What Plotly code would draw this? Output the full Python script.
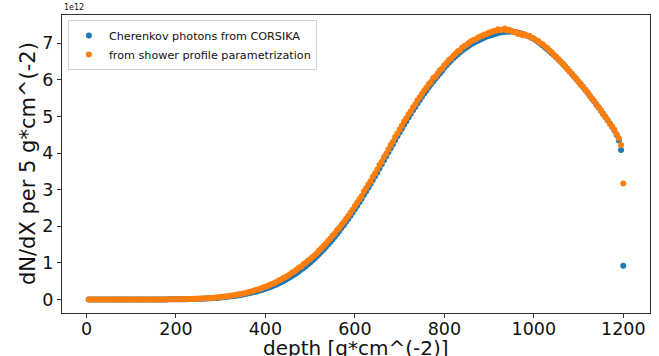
import plotly.graph_objects as go

depth = list(range(5, 1205, 5))

corsika = [0.0] * 30 + [
    0.001, 0.001, 0.001, 0.002, 0.002, 0.002, 0.003, 0.003, 0.004, 0.004,
    0.005, 0.006, 0.007, 0.008, 0.009, 0.010, 0.012, 0.013, 0.015, 0.017,
    0.019, 0.021, 0.024, 0.027, 0.030, 0.034, 0.038, 0.042, 0.047, 0.052,
    0.058, 0.064, 0.071, 0.078, 0.086, 0.095, 0.104, 0.114, 0.125, 0.136,
    0.148, 0.161, 0.175, 0.189, 0.204, 0.22, 0.237, 0.254, 0.272, 0.29,
    0.31, 0.335, 0.36, 0.385, 0.41, 0.44, 0.47, 0.50, 0.535, 0.57,
    0.605, 0.645, 0.685, 0.725, 0.77, 0.815, 0.86, 0.91, 0.96, 1.01,
    1.065, 1.12, 1.18, 1.24, 1.30, 1.365, 1.43, 1.50, 1.57, 1.64,
    1.715, 1.79, 1.87, 1.95, 2.03, 2.115, 2.20, 2.285, 2.375, 2.465,
    2.56, 2.655, 2.75, 2.85, 2.95, 3.05, 3.155, 3.26, 3.365, 3.47,
    3.58, 3.69, 3.8, 3.91, 4.02, 4.13, 4.24, 4.35, 4.455, 4.56,
    4.665, 4.77, 4.87, 4.97, 5.07, 5.165, 5.26, 5.355, 5.445, 5.535,
    5.625, 5.71, 5.795, 5.875, 5.955, 6.03, 6.105, 6.175, 6.245, 6.33,
    6.4, 6.465, 6.53, 6.59, 6.645, 6.7, 6.75, 6.8, 6.845, 6.89,
    6.93, 6.97, 7.005, 7.04, 7.07, 7.1, 7.13, 7.155, 7.18, 7.2,
    7.22, 7.24, 7.26, 7.275, 7.29, 7.3, 7.31, 7.315, 7.32, 7.32,
    7.31, 7.3, 7.285, 7.27, 7.25, 7.23, 7.205, 7.18, 7.15, 7.12,
    7.075, 7.03, 6.985, 6.935, 6.885, 6.835, 6.78, 6.725, 6.67, 6.615,
    6.555, 6.495, 6.43, 6.365, 6.3, 6.23, 6.16, 6.09, 6.02, 5.95,
    5.875, 5.8, 5.725, 5.645, 5.565, 5.485, 5.405, 5.325, 5.24, 5.155,
    5.07, 4.985, 4.895, 4.805, 4.715, 4.62, 4.5, 4.35, 4.08, 0.92,
]

param = [0.0] * 30 + [
    0.001, 0.001, 0.002, 0.002, 0.002, 0.003, 0.003, 0.004, 0.004, 0.005,
    0.006, 0.007, 0.008, 0.009, 0.011, 0.012, 0.014, 0.016, 0.018, 0.02,
    0.023, 0.026, 0.03, 0.033, 0.037, 0.042, 0.047, 0.052, 0.058, 0.064,
    0.071, 0.079, 0.087, 0.096, 0.105, 0.116, 0.127, 0.139, 0.151, 0.164,
    0.178, 0.193, 0.209, 0.226, 0.244, 0.262, 0.282, 0.302, 0.325, 0.347,
    0.37, 0.4, 0.425, 0.45, 0.485, 0.515, 0.545, 0.585, 0.61, 0.65,
    0.69, 0.735, 0.77, 0.82, 0.865, 0.9, 0.96, 1.0, 1.06, 1.1,
    1.16, 1.21, 1.27, 1.34, 1.39, 1.46, 1.52, 1.6, 1.66, 1.74,
    1.8, 1.89, 1.95, 2.04, 2.11, 2.2, 2.28, 2.37, 2.45, 2.55,
    2.64, 2.74, 2.82, 2.95, 3.04, 3.14, 3.23, 3.35, 3.44, 3.55,
    3.67, 3.76, 3.89, 3.98, 4.1, 4.22, 4.31, 4.44, 4.53, 4.64,
    4.75, 4.86, 4.95, 5.06, 5.14, 5.25, 5.33, 5.44, 5.52, 5.62,
    5.71, 5.78, 5.88, 5.94, 6.04, 6.09, 6.17, 6.26, 6.31, 6.4,
    6.46, 6.54, 6.58, 6.66, 6.71, 6.78, 6.81, 6.88, 6.92, 6.96,
    7.01, 7.05, 7.09, 7.11, 7.15, 7.18, 7.2, 7.24, 7.25, 7.29,
    7.3, 7.33, 7.34, 7.38, 7.36, 7.37, 7.4, 7.35, 7.37, 7.33,
    7.31, 7.3, 7.25, 7.27, 7.22, 7.24, 7.2, 7.2, 7.15, 7.13,
    7.08, 7.06, 7.0, 6.97, 6.9, 6.87, 6.8, 6.75, 6.68, 6.63,
    6.57, 6.49, 6.44, 6.37, 6.29, 6.24, 6.16, 6.08, 6.03, 5.95,
    5.86, 5.81, 5.72, 5.66, 5.56, 5.49, 5.42, 5.31, 5.25, 5.17,
    5.06, 4.99, 4.9, 4.8, 4.73, 4.64, 4.52, 4.4, 4.22, 3.17,
]

x_ticks = [0, 200, 400, 600, 800, 1000, 1200]
y_ticks = [0, 1, 2, 3, 4, 5, 6, 7]

font_family = "DejaVu Sans"

fig = go.Figure()
fig.add_trace(go.Scatter(x=depth, y=corsika, mode="markers",
                         name="Cherenkov photons from CORSIKA",
                         marker=dict(color="#1f77b4", size=6, line=dict(width=0))))
fig.add_trace(go.Scatter(x=depth, y=param, mode="markers",
                         name="from shower profile parametrization",
                         marker=dict(color="#ff7f0e", size=6, line=dict(width=0))))

xmin, xmax = min(depth), max(depth)
xpad = 0.05 * (xmax - xmin)
allv = corsika + param
ymin, ymax = min(allv), max(allv)
ypad = 0.05 * (ymax - ymin)

tickfont = dict(size=17.5, color="#111", family=font_family)

fig.update_layout(
    width=659, height=356,
    margin=dict(l=62, r=9, t=15, b=43),
    paper_bgcolor="white", plot_bgcolor="white",
    font=dict(family=font_family),
    showlegend=True,
    legend=dict(x=0.01, y=0.983, xanchor="left", yanchor="top",
                bgcolor="rgba(255,255,255,0.8)", bordercolor="#d0d0d0", borderwidth=1,
                font=dict(size=11.2, color="#111", family=font_family),
                itemsizing="trace", tracegroupgap=0),
    xaxis=dict(range=[xmin - xpad, xmax + xpad], tickvals=x_ticks,
               ticktext=[str(v) for v in x_ticks],
               showgrid=False, zeroline=False, showline=True, linecolor="#333",
               linewidth=1, mirror=True, ticks="", tickfont=tickfont,
               minor=dict(tickvals=x_ticks, ticks="outside", ticklen=4,
                          tickcolor="#333", showgrid=False)),
    yaxis=dict(range=[ymin - ypad, ymax + ypad], tickvals=y_ticks,
               ticktext=[str(v) for v in y_ticks],
               showgrid=False, zeroline=False, showline=True, linecolor="#333",
               linewidth=1, mirror=True, ticks="outside", ticklen=4,
               tickcolor="#333", tickfont=tickfont),
    annotations=[
        dict(text="1e12", xref="paper", yref="paper", x=0, y=1, xanchor="left",
             yanchor="bottom", showarrow=False, yshift=1,
             font=dict(size=8, color="#111", family=font_family)),
        dict(text="depth [g*cm^(-2)]", xref="paper", yref="paper", x=0.5, y=0,
             xanchor="center", yanchor="top", showarrow=False, yshift=-21,
             font=dict(size=20, color="#111", family=font_family)),
        dict(text="dN/dX per 5 g*cm^(-2)", xref="paper", yref="paper", x=0, y=0.5,
             xanchor="right", yanchor="middle", showarrow=False, xshift=-20,
             textangle=-90, font=dict(size=21, color="#111", family=font_family)),
    ],
)

fig.write_html("out.html")
